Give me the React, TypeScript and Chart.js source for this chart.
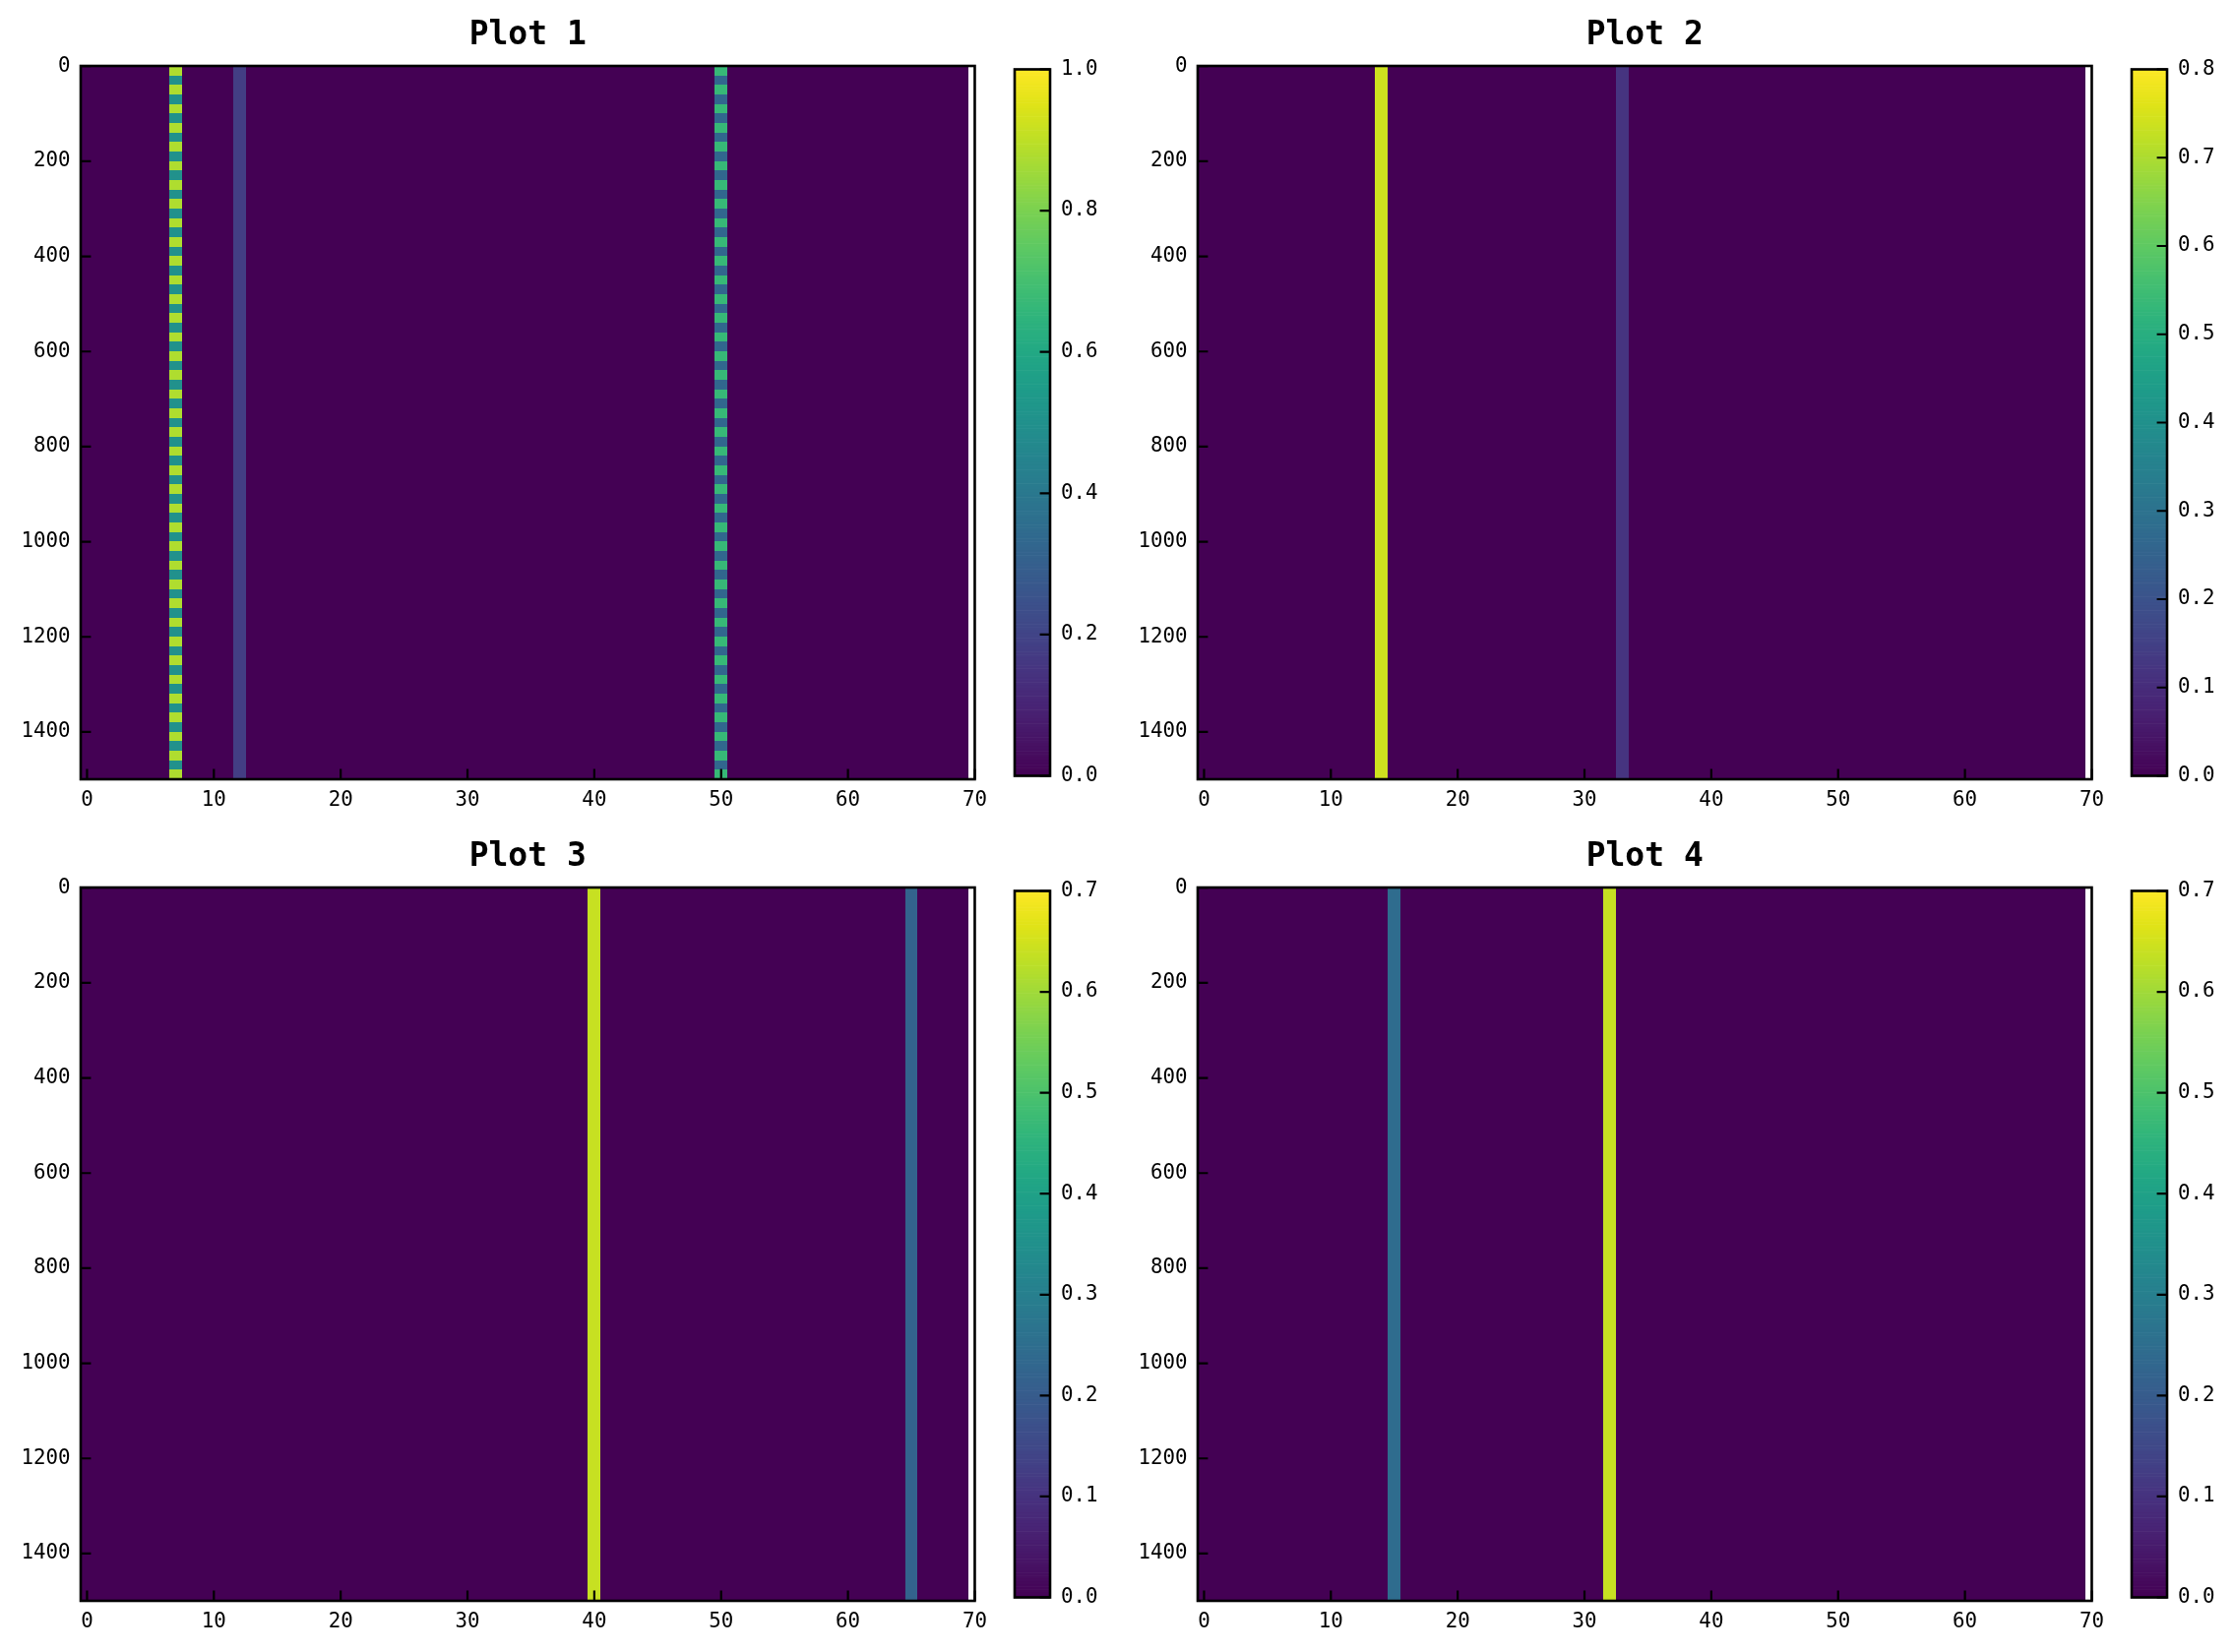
import { useEffect, useRef } from "react";
import { Chart, registerables } from "chart.js";

Chart.register(...registerables);

// ---------------- data ----------------
const ROW_COUNT = 1500; // image rows (y: 0 .. 1499)
const COLUMN_COUNT = 70; // image columns (x: 0 .. 69)
const STRIPE_ROWS = 20; // striped columns alternate their values every 20 rows

const X_TICKS = [0, 10, 20, 30, 40, 50, 60, 70];
const Y_TICKS = [0, 200, 400, 600, 800, 1000, 1200, 1400];

const plotTitles = ["Plot 1", "Plot 2", "Plot 3", "Plot 4"];
const colorbarMax = [1.0, 0.8, 0.7, 0.7];
const colorbarTicks1 = [0.0, 0.2, 0.4, 0.6, 0.8, 1.0];
const colorbarTicks2 = [0.0, 0.1, 0.2, 0.3, 0.4, 0.5, 0.6, 0.7, 0.8];
const colorbarTicks3 = [0.0, 0.1, 0.2, 0.3, 0.4, 0.5, 0.6, 0.7];
const colorbarTicks4 = [0.0, 0.1, 0.2, 0.3, 0.4, 0.5, 0.6, 0.7];

// non-zero columns; each value list is cycled in blocks of STRIPE_ROWS rows
const plot1Columns = [7, 12, 50];
const plot1Values = [[0.88, 0.5], [0.18], [0.67, 0.33]];
const plot2Columns = [14, 33];
const plot2Values = [[0.74], [0.12]];
const plot3Columns = [40, 65];
const plot3Values = [[0.64], [0.22]];
const plot4Columns = [15, 32];
const plot4Values = [[0.245], [0.64]];

// ---------------- styling ----------------
const FONT = "'DejaVu Sans Mono', 'Liberation Mono', monospace";
const FRAME_W = 2.6;
const TICK_LEN = 10.4;
const TICK_W = 2.2;

const VIRIDIS = [
  "#440154", "#471365", "#482475", "#463480", "#414487", "#3b528b", "#355f8d",
  "#2f6c8e", "#2a788e", "#25848e", "#21918c", "#1e9c89", "#22a884", "#2fb47c",
  "#44bf70", "#5ec962", "#7ad151", "#9bd93c", "#bddf26", "#dfe318", "#fde725",
];
const VIRIDIS_RGB = VIRIDIS.map((h) => [
  parseInt(h.slice(1, 3), 16),
  parseInt(h.slice(3, 5), 16),
  parseInt(h.slice(5, 7), 16),
]);
function viridis(t: number): string {
  const c = Math.max(0, Math.min(1, t)) * (VIRIDIS_RGB.length - 1);
  const i = Math.min(Math.floor(c), VIRIDIS_RGB.length - 2);
  const f = c - i;
  const a = VIRIDIS_RGB[i];
  const b = VIRIDIS_RGB[i + 1];
  const r = Math.round(a[0] + (b[0] - a[0]) * f);
  const g = Math.round(a[1] + (b[1] - a[1]) * f);
  const bl = Math.round(a[2] + (b[2] - a[2]) * f);
  return `rgb(${r},${g},${bl})`;
}

type Box = { l: number; t: number; r: number; b: number };

const AXES: Box[] = [
  { l: 82, t: 67, r: 992, b: 792 },
  { l: 1217, t: 67, r: 2127, b: 792 },
  { l: 82, t: 902, r: 992, b: 1627 },
  { l: 1217, t: 902, r: 2127, b: 1627 },
];
const CBARS: Box[] = [
  { l: 1031, t: 67, r: 1067, b: 792 },
  { l: 2166, t: 67, r: 2202, b: 792 },
  { l: 1031, t: 902, r: 1067, b: 1627 },
  { l: 2166, t: 902, r: 2202, b: 1627 },
];

const PLOTS = [
  { title: plotTitles[0], columns: plot1Columns, values: plot1Values, vmax: colorbarMax[0], cbTicks: colorbarTicks1 },
  { title: plotTitles[1], columns: plot2Columns, values: plot2Values, vmax: colorbarMax[1], cbTicks: colorbarTicks2 },
  { title: plotTitles[2], columns: plot3Columns, values: plot3Values, vmax: colorbarMax[2], cbTicks: colorbarTicks3 },
  { title: plotTitles[3], columns: plot4Columns, values: plot4Values, vmax: colorbarMax[3], cbTicks: colorbarTicks4 },
];

type PlotSpec = (typeof PLOTS)[number];

const PAD_LEFT = 90;
const PAD_RIGHT = 20;
const PAD_TOP = 70;
const PAD_BOTTOM = 50;
const TITLE_SIZE = 33;
const TITLE_GAP = 10.5;

function drawFrame(ctx: CanvasRenderingContext2D, a: { left: number; top: number; right: number; bottom: number }) {
  ctx.save();
  ctx.strokeStyle = "#000";
  ctx.lineWidth = FRAME_W;
  ctx.strokeRect(a.left, a.top, a.right - a.left, a.bottom - a.top);
  ctx.restore();
}

function Heatmap({ spec, box }: { spec: PlotSpec; box: Box }) {
  const ref = useRef<HTMLCanvasElement>(null);
  const w = box.r - box.l + PAD_LEFT + PAD_RIGHT;
  const h = box.b - box.t + PAD_TOP + PAD_BOTTOM;
  useEffect(() => {
    const canvas = ref.current!;
    const plugin = {
      id: "heatmapCells",
      beforeDatasetsDraw(chart: any) {
        const { ctx, chartArea } = chart;
        const xs = chart.scales.x;
        const ys = chart.scales.y;
        ctx.save();
        ctx.beginPath();
        ctx.rect(chartArea.left, chartArea.top, chartArea.right - chartArea.left, chartArea.bottom - chartArea.top);
        ctx.clip();
        const px = (v: number) => Math.round(xs.getPixelForValue(v));
        const py = (v: number) => Math.round(ys.getPixelForValue(v));
        // all cells default to 0
        ctx.fillStyle = viridis(0);
        ctx.fillRect(px(-0.5), py(-0.5), px(COLUMN_COUNT - 0.5) - px(-0.5), py(ROW_COUNT - 0.5) - py(-0.5));
        spec.columns.forEach((col, ci) => {
          const vals = spec.values[ci];
          const x0 = px(col - 0.5);
          const x1 = px(col + 0.5);
          if (vals.length === 1) {
            ctx.fillStyle = viridis(vals[0] / spec.vmax);
            ctx.fillRect(x0, py(-0.5), x1 - x0, py(ROW_COUNT - 0.5) - py(-0.5));
          } else {
            let k = 0;
            for (let r = 0; r < ROW_COUNT; r += STRIPE_ROWS, k++) {
              const v = vals[k % vals.length];
              const y0 = py(r - 0.5);
              const y1 = py(Math.min(r + STRIPE_ROWS, ROW_COUNT) - 0.5);
              ctx.fillStyle = viridis(v / spec.vmax);
              ctx.fillRect(x0, y0, x1 - x0, y1 - y0);
            }
          }
        });
        ctx.restore();
      },
      afterDraw(chart: any) {
        const { ctx, chartArea } = chart;
        const xs = chart.scales.x;
        const ys = chart.scales.y;
        ctx.save();
        ctx.strokeStyle = "#000";
        ctx.lineWidth = TICK_W;
        ctx.beginPath();
        X_TICKS.forEach((v) => {
          const p = xs.getPixelForValue(v);
          ctx.moveTo(p, chartArea.bottom);
          ctx.lineTo(p, chartArea.bottom - TICK_LEN);
        });
        Y_TICKS.forEach((v) => {
          const p = ys.getPixelForValue(v);
          ctx.moveTo(chartArea.left, p);
          ctx.lineTo(chartArea.left + TICK_LEN, p);
        });
        ctx.stroke();
        ctx.restore();
        drawFrame(ctx, chartArea);
      },
    };
    const chart = new Chart(canvas, {
      type: "scatter",
      data: { datasets: [] },
      plugins: [plugin],
      options: {
        animation: false,
        responsive: false,
        devicePixelRatio: 1,
        events: [],
        layout: {
          padding: { left: 0, right: PAD_RIGHT, bottom: 0, top: PAD_TOP - TITLE_SIZE * 1.2 - TITLE_GAP },
        },
        plugins: {
          legend: { display: false },
          tooltip: { enabled: false },
          title: {
            display: true,
            text: spec.title,
            fullSize: false,
            color: "#000",
            font: { family: FONT, size: TITLE_SIZE, weight: "bold", lineHeight: 1.2 },
            padding: { top: 0, bottom: TITLE_GAP },
          },
        },
        scales: {
          x: {
            type: "linear",
            position: "bottom",
            min: -0.5,
            max: COLUMN_COUNT,
            afterBuildTicks: (s: any) => {
              s.ticks = X_TICKS.map((v) => ({ value: v }));
            },
            afterFit: (s: any) => {
              s.height = PAD_BOTTOM;
            },
            grid: { display: false, drawTicks: false },
            border: { display: false },
            ticks: {
              color: "#000",
              padding: 9,
              maxRotation: 0,
              autoSkip: false,
              font: { family: FONT, size: 20.8 },
              callback: (v: any) => String(v),
            },
          },
          y: {
            type: "linear",
            position: "left",
            reverse: true,
            min: -0.5,
            max: ROW_COUNT - 0.5,
            afterBuildTicks: (s: any) => {
              s.ticks = Y_TICKS.map((v) => ({ value: v }));
            },
            afterFit: (s: any) => {
              s.width = PAD_LEFT;
            },
            grid: { display: false, drawTicks: false },
            border: { display: false },
            ticks: {
              color: "#000",
              padding: 10.5,
              autoSkip: false,
              font: { family: FONT, size: 20.8 },
              callback: (v: any) => String(v),
            },
          },
        },
      } as any,
    });
    return () => chart.destroy();
  }, []);
  return (
    <canvas
      ref={ref}
      width={w}
      height={h}
      style={{ position: "absolute", left: box.l - PAD_LEFT, top: box.t - PAD_TOP, width: w, height: h }}
    />
  );
}

const CB_PAD_LEFT = 10;
const CB_PAD_RIGHT = 70;
const CB_PAD_TOP = 20;
const CB_PAD_BOTTOM = 20;

function Colorbar({ spec, box }: { spec: PlotSpec; box: Box }) {
  const ref = useRef<HTMLCanvasElement>(null);
  const w = box.r - box.l + CB_PAD_LEFT + CB_PAD_RIGHT;
  const h = box.b - box.t + CB_PAD_TOP + CB_PAD_BOTTOM;
  useEffect(() => {
    const canvas = ref.current!;
    const plugin = {
      id: "colorbarFill",
      beforeDatasetsDraw(chart: any) {
        const { ctx, chartArea } = chart;
        const ys = chart.scales.y;
        const steps = 256;
        ctx.save();
        for (let i = 0; i < steps; i++) {
          const v0 = (spec.vmax * i) / steps;
          const v1 = (spec.vmax * (i + 1)) / steps;
          const y0 = ys.getPixelForValue(v0);
          const y1 = ys.getPixelForValue(v1);
          ctx.fillStyle = viridis((i + 0.5) / steps);
          ctx.fillRect(chartArea.left, y1, chartArea.right - chartArea.left, y0 - y1 + 0.6);
        }
        ctx.restore();
      },
      afterDraw(chart: any) {
        const { ctx, chartArea } = chart;
        const ys = chart.scales.y;
        ctx.save();
        ctx.strokeStyle = "#000";
        ctx.lineWidth = TICK_W;
        ctx.beginPath();
        spec.cbTicks.forEach((v) => {
          const p = ys.getPixelForValue(v);
          ctx.moveTo(chartArea.right, p);
          ctx.lineTo(chartArea.right - TICK_LEN, p);
        });
        ctx.stroke();
        ctx.restore();
        drawFrame(ctx, chartArea);
      },
    };
    const chart = new Chart(canvas, {
      type: "scatter",
      data: { datasets: [] },
      plugins: [plugin],
      options: {
        animation: false,
        responsive: false,
        devicePixelRatio: 1,
        events: [],
        layout: { padding: { left: CB_PAD_LEFT, right: 0, top: CB_PAD_TOP, bottom: CB_PAD_BOTTOM } },
        plugins: { legend: { display: false }, tooltip: { enabled: false }, title: { display: false } },
        scales: {
          x: { type: "linear", display: false, min: 0, max: 1 },
          y: {
            type: "linear",
            position: "right",
            min: 0,
            max: spec.vmax,
            afterBuildTicks: (s: any) => {
              s.ticks = spec.cbTicks.map((v) => ({ value: v }));
            },
            afterFit: (s: any) => {
              s.width = CB_PAD_RIGHT;
            },
            grid: { display: false, drawTicks: false },
            border: { display: false },
            ticks: {
              color: "#000",
              padding: 11,
              autoSkip: false,
              font: { family: FONT, size: 20.8 },
              callback: (v: any) => Number(v).toFixed(1),
            },
          },
        },
      } as any,
    });
    return () => chart.destroy();
  }, []);
  return (
    <canvas
      ref={ref}
      width={w}
      height={h}
      style={{ position: "absolute", left: box.l - CB_PAD_LEFT, top: box.t - CB_PAD_TOP, width: w, height: h }}
    />
  );
}

export default function App() {
  return (
    <div
      style={{
        position: "fixed",
        left: 0,
        top: 0,
        width: 2270,
        height: 1679,
        background: "#fff",
        overflow: "hidden",
      }}
    >
      {PLOTS.map((p, i) => (
        <Heatmap key={"h" + i} spec={p} box={AXES[i]} />
      ))}
      {PLOTS.map((p, i) => (
        <Colorbar key={"c" + i} spec={p} box={CBARS[i]} />
      ))}
    </div>
  );
}
